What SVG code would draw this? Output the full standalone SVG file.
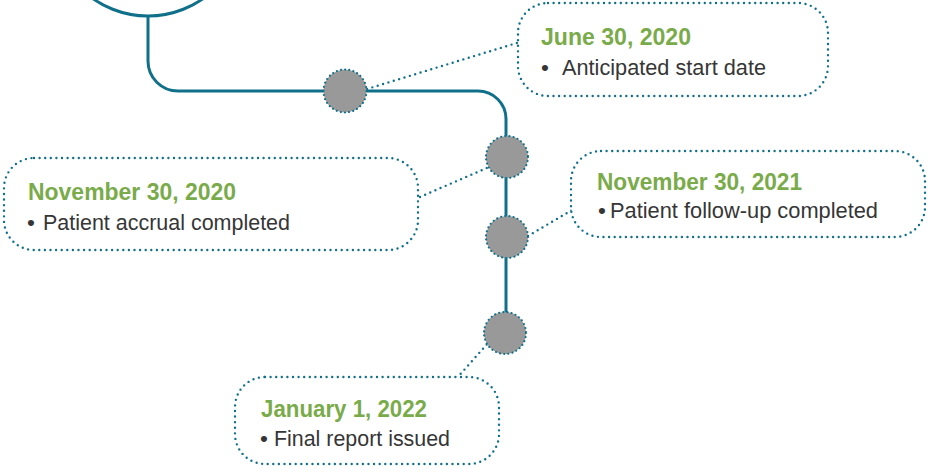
<svg xmlns="http://www.w3.org/2000/svg" width="932" height="475" viewBox="0 0 932 475">
<style>
.line{fill:none;stroke:#10708a;stroke-width:3}
.dotted{fill:none;stroke:#10708a;stroke-width:2.4;stroke-linecap:round;stroke-dasharray:0 5.6}
.box{fill:#ffffff;stroke:#10708a;stroke-width:2.4;stroke-linecap:round;stroke-dasharray:0 5.6}
.ms{fill:#999999;stroke:#10708a;stroke-width:2.2;stroke-linecap:round;stroke-dasharray:0 4.2}
.date{font-family:"Liberation Sans",Arial,sans-serif;font-weight:bold;font-size:24.5px;fill:#7aab4a}
.body{font-family:"Liberation Sans",Arial,sans-serif;font-size:22.5px;fill:#363636}
</style>
<rect width="932" height="475" fill="#ffffff"/>
<g id="connectors">
<circle class="line" cx="148" cy="-80" r="96"/>
<path class="line" d="M148,16 V61 A30,30 0 0 0 178,91 H478 A28,28 0 0 1 506,119 V333"/>
<path class="dotted" d="M367,89 L520,42"/>
<path class="dotted" d="M420,197 L489,167"/>
<path class="dotted" d="M528,236 L572,210"/>
<path class="dotted" d="M457,378 L488,343"/>
</g>
<g id="milestone1"><circle class="ms" cx="345" cy="91" r="21.5"/></g>
<g id="milestone2"><circle class="ms" cx="507" cy="157" r="21"/></g>
<g id="milestone3"><circle class="ms" cx="507" cy="237" r="21"/></g>
<g id="milestone4"><circle class="ms" cx="505" cy="333" r="21"/></g>
<g id="box-june-2020">
<rect class="box" x="518" y="3" width="310" height="93" rx="30"/>
<text class="date" x="541" y="45" textLength="150" lengthAdjust="spacingAndGlyphs">June 30, 2020</text>
<text class="body" y="75"><tspan x="541">•</tspan><tspan x="562" textLength="204" lengthAdjust="spacingAndGlyphs">Anticipated start date</tspan></text>
</g>
<g id="box-nov-2020">
<rect class="box" x="4" y="158" width="414" height="92" rx="30"/>
<text class="date" x="28" y="200" textLength="208" lengthAdjust="spacingAndGlyphs">November 30, 2020</text>
<text class="body" y="230"><tspan x="27">•</tspan><tspan x="43" textLength="247" lengthAdjust="spacingAndGlyphs">Patient accrual completed</tspan></text>
</g>
<g id="box-nov-2021">
<rect class="box" x="571" y="151" width="354" height="86" rx="30"/>
<text class="date" x="597" y="190" textLength="205" lengthAdjust="spacingAndGlyphs">November 30, 2021</text>
<text class="body" y="218"><tspan x="598">•</tspan><tspan x="610" textLength="268" lengthAdjust="spacingAndGlyphs">Patient follow-up completed</tspan></text>
</g>
<g id="box-jan-2022">
<rect class="box" x="235" y="377" width="264" height="87" rx="30"/>
<text class="date" x="261" y="417" textLength="166" lengthAdjust="spacingAndGlyphs">January 1, 2022</text>
<text class="body" y="446"><tspan x="260">•</tspan><tspan x="274" textLength="176" lengthAdjust="spacingAndGlyphs">Final report issued</tspan></text>
</g>
</svg>
